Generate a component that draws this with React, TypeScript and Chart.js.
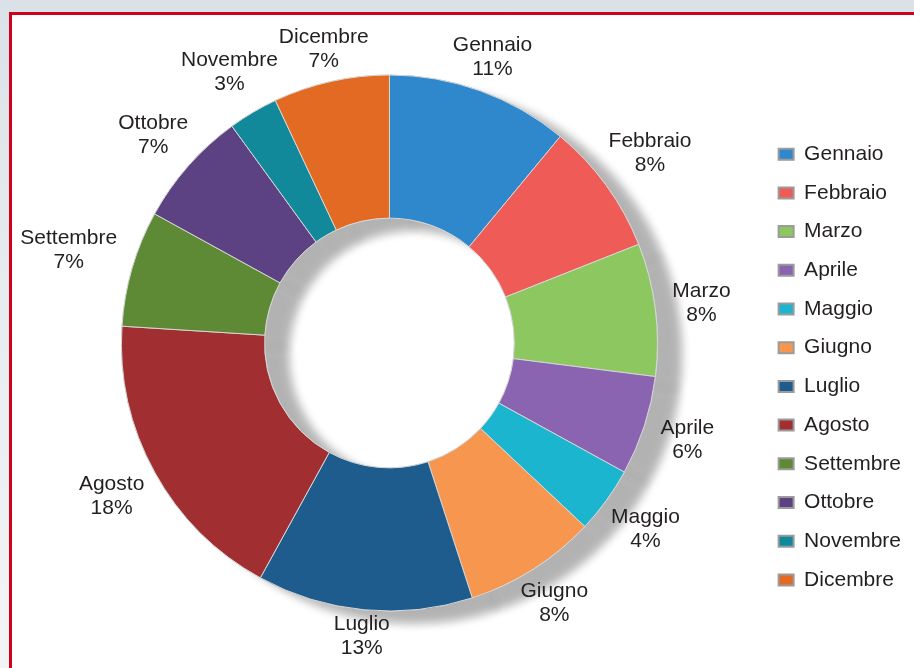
import React, { useEffect, useRef } from "react";
import { Chart, registerables } from "chart.js";

Chart.register(...registerables);

const months = [
  "Gennaio",
  "Febbraio",
  "Marzo",
  "Aprile",
  "Maggio",
  "Giugno",
  "Luglio",
  "Agosto",
  "Settembre",
  "Ottobre",
  "Novembre",
  "Dicembre",
];

const values = [11, 8, 8, 6, 4, 8, 13, 18, 7, 7, 3, 7];

const colors = [
  "#2f88cc",
  "#ef5b57",
  "#8dc75f",
  "#8a63b1",
  "#1cb5cf",
  "#f7964f",
  "#1d5c8c",
  "#a12f32",
  "#5f8a35",
  "#5d4283",
  "#12889b",
  "#e26a22",
];

const FONT = "'Liberation Sans', Arial, sans-serif";

export default function App() {
  const ref = useRef<HTMLCanvasElement>(null);

  useEffect(() => {
    const canvas = ref.current;
    if (!canvas) return;

    const shadowPlugin = {
      id: "ringShadow",
      beforeDatasetsDraw(chart: any) {
        const ctx = chart.ctx;
        const meta = chart.getDatasetMeta(0);
        ctx.save();
        ctx.shadowColor = "rgba(0,0,0,0.30)";
        ctx.shadowBlur = 10;
        ctx.shadowOffsetX = 24;
        ctx.shadowOffsetY = 12;
        meta.data.forEach((a: any) => a.draw(ctx));
        ctx.restore();
      },
    };

    const labelPlugin = {
      id: "outLabels",
      afterDatasetsDraw(chart: any) {
        const ctx = chart.ctx;
        const meta = chart.getDatasetMeta(0);
        const total = values.reduce((s, v) => s + v, 0);
        ctx.save();
        ctx.font = `21px ${FONT}`;
        ctx.fillStyle = "#231f20";
        ctx.textAlign = "center";
        ctx.textBaseline = "middle";
        const lh = 24;
        meta.data.forEach((arc: any, i: number) => {
          const p = arc.getProps(["x", "y", "startAngle", "endAngle", "outerRadius"], true);
          const mid = (p.startAngle + p.endAngle) / 2;
          const c = Math.cos(mid);
          const s = Math.sin(mid);
          const l1 = months[i];
          const l2 = Math.round((values[i] / total) * 100) + "%";
          const w = Math.max(ctx.measureText(l1).width, ctx.measureText(l2).width);
          const h = lh * 2;
          const gap = 15 * Math.pow(Math.abs(c), 4);
          const r = p.outerRadius + gap + (Math.abs(c) * w) / 2 + (Math.abs(s) * h) / 2;
          const cx = p.x + c * r;
          const cy = p.y + s * r;
          ctx.fillText(l1, cx, cy - lh / 2);
          ctx.fillText(l2, cx, cy + lh / 2);
        });
        ctx.restore();
      },
    };

    const baseGen = (Chart as any).overrides.doughnut.plugins.legend.labels.generateLabels;

    const chart = new Chart(canvas, {
      type: "doughnut",
      data: {
        labels: months,
        datasets: [
          {
            data: values,
            backgroundColor: colors,
            borderColor: "#d6d6d6",
            borderWidth: 1,
          },
        ],
      },
      options: {
        responsive: false,
        animation: false,
        devicePixelRatio: 1,
        radius: 268,
        cutout: "46.6%",
        layout: { padding: { left: 18, right: 3, top: 18, bottom: 0 } },
        plugins: {
          tooltip: { enabled: false },
          legend: {
            position: "right",
            align: "start",
            title: {
              display: true,
              text: "",
              font: { size: 10, family: FONT },
              padding: { top: 96, bottom: 0 },
            },
            labels: {
              boxWidth: 15,
              boxHeight: 11,
              padding: 17.7,
              color: "#231f20",
              font: { size: 21, family: FONT },
              generateLabels: (ch: any) => {
                const items = baseGen(ch);
                return items.map((it: any) => ({
                  ...it,
                  strokeStyle: "#9b9b9b",
                  lineWidth: 2,
                }));
              },
            },
          },
        },
      } as any,
      plugins: [shadowPlugin, labelPlugin],
    });

    return () => chart.destroy();
  }, []);

  return (
    <div
      style={{
        position: "relative",
        width: 914,
        height: 668,
        overflow: "hidden",
        background: "linear-gradient(180deg, #dbe2e7 0%, #e8edf0 50%, #f3f4f5 100%)",
      }}
    >
      <style>{"body{margin:0}"}</style>
      <div
        style={{
          position: "absolute",
          left: 9,
          top: 12,
          width: 960,
          height: 720,
          border: "3px solid #d0021b",
          background: "#ffffff",
          boxSizing: "border-box",
        }}
      />
      <canvas
        ref={ref}
        width={914}
        height={668}
        style={{ position: "absolute", left: 0, top: 0, width: 914, height: 668 }}
      />
    </div>
  );
}
